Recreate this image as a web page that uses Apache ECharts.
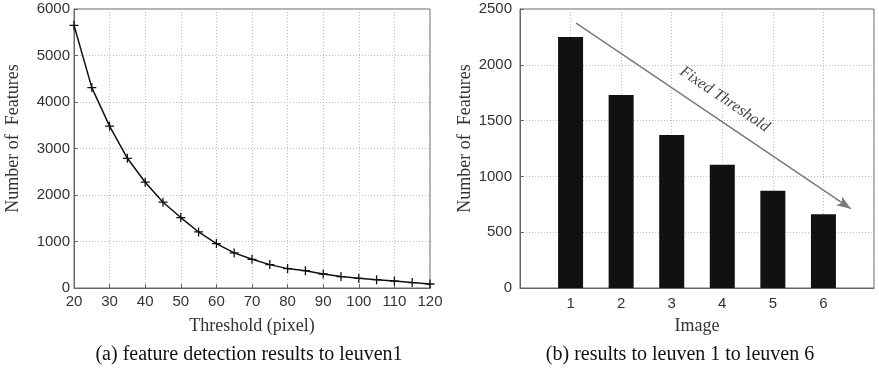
<!DOCTYPE html>
<html>
<head>
<meta charset="utf-8">
<script src="https://cdn.jsdelivr.net/npm/echarts@6/dist/echarts.min.js"></script>
<style>html,body{margin:0;padding:0;background:#fff}#c{width:879px;height:374px}</style>
</head>
<body>
<div id="c"></div>
<script>
// Left chart (a)
const thresholds = [20,25,30,35,40,45,50,55,60,65,70,75,80,85,90,95,100,105,110,115,120];
const featuresA  = [5650,4310,3480,2790,2275,1845,1515,1205,955,755,618,503,417,372,301,245,209,180,150,116,86];
// Right chart (b)
const images     = [1,2,3,4,5,6];
const featuresB  = [2250,1730,1372,1105,872,660];
const arrowStart = [1.11,2373];
const arrowEnd   = [6.54,711];
const arrowText  = 'Fixed Threshold';
const captionA = '(a) feature detection results to leuven1';
const captionB = '(b) results to leuven 1 to leuven 6';

const serif = '"Liberation Serif","DejaVu Serif",serif';
const sans = '"Liberation Sans",Arial,sans-serif';
const gridLine = {show:true, lineStyle:{color:'#bdbdbd', type:[1,2], width:1}};
const axisLine = {show:true, lineStyle:{color:'#666', width:1}};
const tick = {show:true, inside:true, length:4, lineStyle:{color:'#666'}};
const plain = function(v){return String(v);};
const lab = {color:'#333', fontFamily:sans, fontSize:15};
const plus = 'path://M-0.7,-5L0.7,-5L0.7,-0.7L5,-0.7L5,0.7L0.7,0.7L0.7,5L-0.7,5L-0.7,0.7L-5,0.7L-5,-0.7L-0.7,-0.7Z';

const chart = echarts.init(document.getElementById('c'), null, {renderer:'canvas'});
chart.setOption({
  animation:false,
  backgroundColor:'#fff',
  title:[
    {text:captionA, left:244, top:340, textAlign:'center', textStyle:{fontFamily:serif, fontSize:20, fontWeight:'normal', color:'#111'}},
    {text:captionB, left:675, top:340, textAlign:'center', textStyle:{fontFamily:serif, fontSize:20, fontWeight:'normal', color:'#111'}}
  ],
  grid:[
    {left:74, right:449, top:9, bottom:86, show:true, borderColor:'#666', borderWidth:1, backgroundColor:'#fff'},
    {left:520, right:5, top:9, bottom:86, show:true, borderColor:'#666', borderWidth:1, backgroundColor:'#fff'}
  ],
  xAxis:[
    {gridIndex:0, type:'value', min:20, max:120, interval:10,
     name:'Threshold (pixel)', nameLocation:'middle', nameGap:29,
     nameTextStyle:{fontFamily:serif, fontSize:18, color:'#333'},
     axisLine:axisLine, axisTick:tick, splitLine:gridLine,
     axisLabel:Object.assign({margin:6, formatter:plain}, lab)},
    {gridIndex:1, type:'value', min:0, max:7, interval:1,
     name:'Image', nameLocation:'middle', nameGap:29,
     nameTextStyle:{fontFamily:serif, fontSize:18, color:'#333'},
     axisLine:axisLine, axisTick:{show:false}, splitLine:gridLine,
     axisLabel:Object.assign({margin:8, formatter:function(v){return (v>=1&&v<=6)?String(v):'';}}, lab)}
  ],
  yAxis:[
    {gridIndex:0, type:'value', min:0, max:6000, interval:1000,
     name:'Number of  Features', nameLocation:'middle', nameGap:52,
     nameTextStyle:{fontFamily:serif, fontSize:18, color:'#333', padding:[0,0,0,20]},
     axisLine:axisLine, axisTick:tick, splitLine:gridLine,
     axisLabel:Object.assign({margin:4, formatter:plain}, lab)},
    {gridIndex:1, type:'value', min:0, max:2500, interval:500,
     name:'Number of  Features', nameLocation:'middle', nameGap:46,
     nameTextStyle:{fontFamily:serif, fontSize:18, color:'#333', padding:[0,0,0,20]},
     axisLine:axisLine, axisTick:tick, splitLine:gridLine,
     axisLabel:Object.assign({margin:8, formatter:plain}, lab)}
  ],
  series:[
    {type:'line', xAxisIndex:0, yAxisIndex:0,
     data:thresholds.map((t,i)=>[t,featuresA[i]]),
     lineStyle:{color:'#111', width:1.5},
     symbol:plus, symbolSize:9, itemStyle:{color:'#111'}, showSymbol:true},
    {type:'bar', xAxisIndex:1, yAxisIndex:1,
     data:images.map((m,i)=>[m,featuresB[i]]),
     barWidth:25, itemStyle:{color:'#111'},
     markLine:{silent:true, symbol:['none','arrow'], symbolSize:[8,14],
       lineStyle:{color:'#7a7a7a', width:1.5, type:'solid'},
       label:{show:true, formatter:arrowText, position:'insideMiddleTop', distance:12,
              fontFamily:serif, fontStyle:'italic', fontSize:16, color:'#444'},
       data:[[{coord:arrowStart},{coord:arrowEnd}]]}}
  ]
});
</script>
</body>
</html>
